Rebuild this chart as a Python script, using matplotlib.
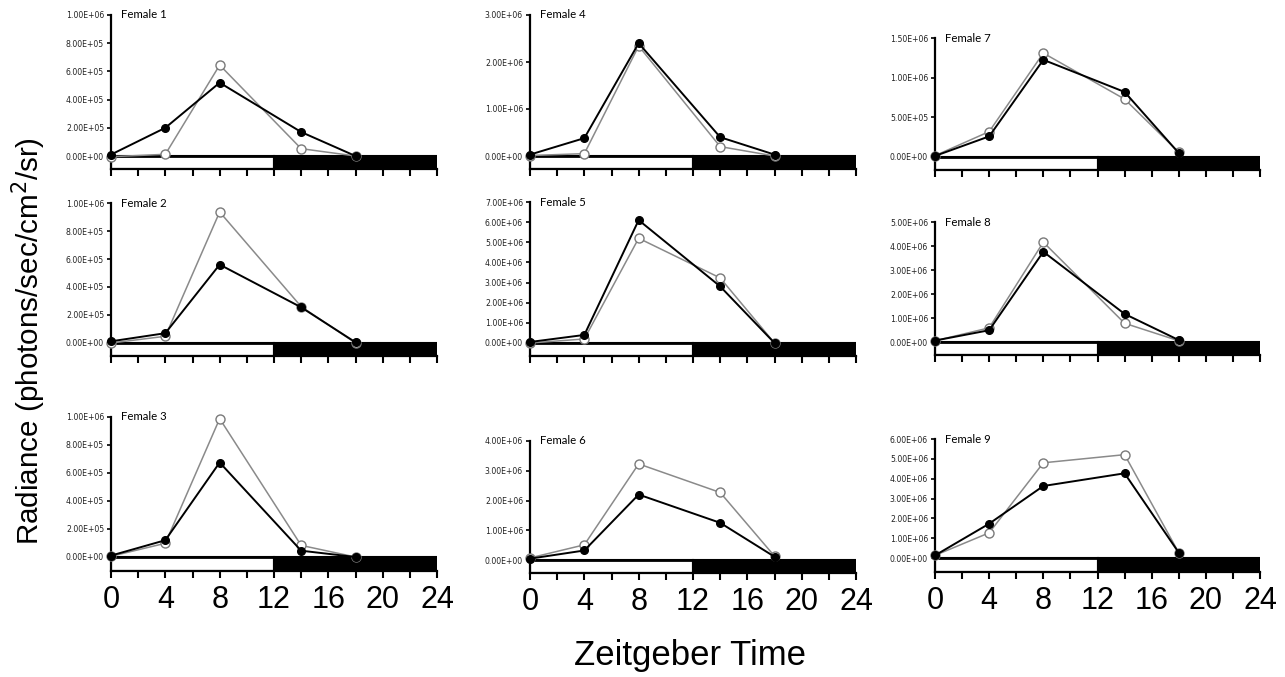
import matplotlib.pyplot as plt
from matplotlib.patches import Rectangle
from matplotlib.ticker import FuncFormatter

# Zeitgeber time of each sample
zt = [0, 4, 8, 14, 18]

names = ["Female 1", "Female 2", "Female 3", "Female 4", "Female 5",
         "Female 6", "Female 7", "Female 8", "Female 9"]

# filled black series
black = [
    [1.0e4, 2.0e5, 5.2e5, 1.7e5, 0.0],
    [1.2e4, 7.0e4, 5.6e5, 2.55e5, 5.0e3],
    [1.0e4, 1.2e5, 6.75e5, 4.5e4, 0.0],
    [3.0e4, 3.8e5, 2.40e6, 4.0e5, 3.0e4],
    [5.0e4, 4.0e5, 6.1e6, 2.81e6, 0.0],
    [4.5e4, 3.2e5, 2.2e6, 1.25e6, 1.1e5],
    [1.3e4, 2.6e5, 1.225e6, 8.2e5, 5.0e4],
    [6.0e4, 4.9e5, 3.76e6, 1.17e6, 8.0e4],
    [1.3e5, 1.73e6, 3.63e6, 4.27e6, 2.7e5],
]

# open grey series
grey = [
    [-5.0e3, 1.2e4, 6.45e5, 5.2e4, 0.0],
    [0.0, 4.8e4, 9.36e5, 2.6e5, 0.0],
    [5.0e3, 9.8e4, 9.88e5, 8.3e4, 0.0],
    [1.0e4, 5.0e4, 2.34e6, 2.0e5, 0.0],
    [0.0, 2.0e5, 5.2e6, 3.23e6, 0.0],
    [7.0e4, 5.1e5, 3.23e6, 2.27e6, 1.3e5],
    [1.7e4, 3.2e5, 1.31e6, 7.3e5, 6.0e4],
    [5.0e4, 5.9e5, 4.16e6, 7.8e5, 5.0e4],
    [1.3e5, 1.27e6, 4.8e6, 5.21e6, 2.7e5],
]

ymax = [1.0e6, 1.0e6, 1.0e6, 3.0e6, 7.0e6, 4.0e6, 1.5e6, 5.0e6, 6.0e6]
ystep = [2.0e5, 2.0e5, 2.0e5, 1.0e6, 1.0e6, 1.0e6, 5.0e5, 1.0e6, 1.0e6]

# pixel layout: column x-extents, and (top tick, zero line, bar bottom) per panel
cols = [(111, 437), (530, 856), (935, 1260)]
rows = [
    (15, 156, 169), (203, 343, 356), (417, 557, 571),
    (15, 156, 169), (202, 343, 356), (441, 560, 573),
    (38, 157, 170), (222, 342, 355), (439, 558, 572),
]

W, H = 1285, 677
fig = plt.figure(figsize=(W / 100, H / 100), dpi=100)

for i in range(9):
    c = i // 3
    r = i % 3
    x0, x1 = cols[c]
    top, zero, bot = rows[i]
    ax = fig.add_axes([x0 / W, 1 - bot / H, (x1 - x0) / W, (bot - top) / H])
    ylo = -ymax[i] * (bot - zero) / (zero - top)
    ax.set_xlim(0, 24)
    ax.set_ylim(ylo, ymax[i])

    # light / dark bar under the zero line
    ax.add_patch(Rectangle((0, ylo), 12, -ylo, facecolor="white",
                           edgecolor="black", lw=1.5, zorder=1))
    ax.add_patch(Rectangle((12, ylo), 12, -ylo, facecolor="black",
                           edgecolor="black", lw=1.5, zorder=1))
    ax.axhline(0, color="black", lw=2, zorder=2)

    ax.plot(zt, grey[i], color="#8a8a8a", lw=1.1, marker="o", ms=6.5,
            mfc="white", mec="#7a7a7a", mew=1.0, clip_on=False, zorder=3)
    ax.plot(zt, black[i], color="black", lw=1.4, marker="o", ms=5.5,
            mfc="black", mec="black", clip_on=False, zorder=4)

    for s in ["top", "right"]:
        ax.spines[s].set_visible(False)
    ax.spines["left"].set_linewidth(1.6)
    ax.spines["bottom"].set_linewidth(1.6)

    yt = [k * ystep[i] for k in range(int(round(ymax[i] / ystep[i])) + 1)]
    ax.set_yticks(yt)
    ax.yaxis.set_major_formatter(FuncFormatter(lambda v, p: f"{v:.2E}"))
    ax.tick_params(axis="y", direction="out", length=3, width=1.2,
                   labelsize=5.6, pad=2, labelcolor="#222222")
    ax.set_xticks(range(0, 25, 2))
    ax.tick_params(axis="x", direction="out", length=5, width=1.5, pad=5)
    if r == 2:
        ax.set_xticklabels([str(v) if v % 4 == 0 else "" for v in range(0, 25, 2)],
                           fontsize=22, family="Liberation Sans")
    else:
        ax.set_xticklabels([])

    ax.text(0.03, ymax[i], names[i], transform=ax.get_yaxis_transform(),
            fontsize=8.2, family="Lato", va="center", ha="left")

fig.text(0.022, 0.496, "Radiance (photons/sec/cm$^2$/sr)", rotation=90,
         fontsize=21.3, family="Liberation Sans", ha="center", va="center")
fig.text(0.537, 0.032, "Zeitgeber Time", fontsize=25,
         family="Liberation Sans", ha="center", va="center")

fig.savefig("out.png", dpi=100, facecolor="white")
